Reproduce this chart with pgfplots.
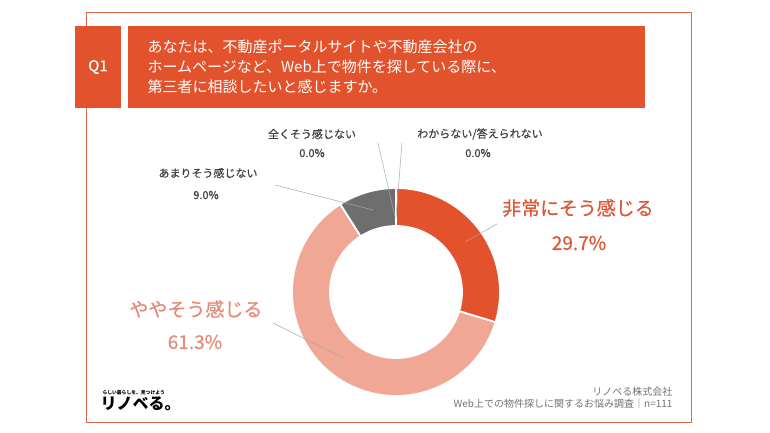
\documentclass[border=0pt]{standalone}
\usepackage{pgfplots}
\usepackage{pgfplotstable}
\pgfplotsset{compat=1.18}
\usepackage{fontspec}
\setmainfont{Noto Sans CJK JP}
\newfontfamily\medfont[FakeBold=0.6]{Noto Sans CJK JP}
\newfontfamily\semifont[FakeBold=0.3]{Noto Sans CJK JP}
\definecolor{orangeD}{HTML}{E2532D}
\definecolor{salmon}{HTML}{F0A795}
\definecolor{grayS}{HTML}{6E6E6E}
\definecolor{frameC}{HTML}{DC6A48}
\definecolor{lblO}{HTML}{DF5634}
\definecolor{lblS}{HTML}{E68C76}
\definecolor{lblG}{HTML}{404040}
\definecolor{leader}{HTML}{A8A8A8}

\pgfplotstableread{
label value
a 29.7
b 61.3
c 9.0
d 0.0
e 0.0
}\piedata

\pgfplotstablegetelem{0}{value}\of\piedata\edef\vA{\pgfplotsretval}
\pgfplotstablegetelem{1}{value}\of\piedata\edef\vB{\pgfplotsretval}
\pgfplotstablegetelem{2}{value}\of\piedata\edef\vC{\pgfplotsretval}
\pgfmathsetmacro\aA{90}
\pgfmathsetmacro\aB{\aA-3.6*\vA}
\pgfmathsetmacro\aC{\aB-3.6*\vB}
\pgfmathsetmacro\aD{\aC-3.6*\vC}

\newcommand\slice[3]{%
  \fill[#1,draw=white,line width=1.8pt]
   ([shift={(#2:104pt)}]axis cs:396,292) arc[start angle=#2,end angle=#3,radius=104pt]
   -- ([shift={(#3:66pt)}]axis cs:396,292) arc[start angle=#3,end angle=#2,radius=66pt] -- cycle;}

\begin{document}
\begin{tikzpicture}
\begin{axis}[
  width=770pt, height=433pt, scale only axis,
  xmin=0, xmax=770, ymin=0, ymax=433, y dir=reverse,
  hide axis, clip=false]
\path[fill=white] (axis cs:0,0) rectangle (axis cs:770,433);
% frame
\draw[frameC, line width=0.9pt] (axis cs:86,12) rectangle (axis cs:691,422);
% header
\fill[orangeD] (axis cs:75,26) rectangle (axis cs:121,108);
\fill[orangeD] (axis cs:128,26) rectangle (axis cs:645,108);
\node[white, font=\fontsize{15}{18}\selectfont\semifont] at (axis cs:98,67) {Q1};
\node[white, anchor=west, align=left, font=\fontsize{15}{20}\selectfont] at (axis cs:144,67)
  {あなたは、不動産ポータルサイトや不動産会社の\\ホームページなど、Web上で物件を探している際に、\\第三者に相談したいと感じますか。};
% donut
\slice{orangeD}{\aA}{\aB}
\slice{salmon}{\aB}{\aC}
\slice{grayS}{\aC}{\aD}
% leader lines
\draw[leader, line width=0.5pt] (axis cs:497,224) -- (axis cs:465,242);
\draw[leader, line width=0.5pt] (axis cs:273,323) -- (axis cs:343,358);
\draw[leader, line width=0.5pt] (axis cs:275,185) -- (axis cs:373,210);
\draw[leader, line width=0.5pt] (axis cs:378,143) -- (axis cs:395,217);
\draw[leader, line width=0.5pt] (axis cs:402,143) -- (axis cs:396,217);
% labels
\node[lblO, font=\fontsize{19}{22}\selectfont\medfont] at (axis cs:578,208) {非常にそう感じる};
\node[lblO, font=\fontsize{19}{22}\selectfont\medfont] at (axis cs:579,243) {29.7\%};
\node[lblS, font=\fontsize{19}{22}\selectfont\medfont] at (axis cs:196,309) {ややそう感じる};
\node[lblS, font=\fontsize{19}{22}\selectfont\medfont] at (axis cs:195,342) {61.3\%};
\node[lblG, font=\fontsize{11}{13}\selectfont\semifont] at (axis cs:208,173) {あまりそう感じない};
\node[lblG, font=\fontsize{11}{13}\selectfont\semifont] at (axis cs:206,195) {9.0\%};
\node[lblG, font=\fontsize{11}{13}\selectfont\semifont] at (axis cs:312,134) {全くそう感じない};
\node[lblG, font=\fontsize{11}{13}\selectfont\semifont] at (axis cs:312,153) {0.0\%};
\node[lblG, font=\fontsize{11}{13}\selectfont\semifont] at (axis cs:480,134) {わからない/答えられない};
\node[lblG, font=\fontsize{11}{13}\selectfont\semifont] at (axis cs:478,153) {0.0\%};
% footer
\node[black, anchor=west, font=\fontsize{4.8}{5}\selectfont\bfseries] at (axis cs:99,393) {らしい暮らしを、見つけよう};
\node[black, anchor=west, font=\fontsize{16}{18}\selectfont\bfseries] at (axis cs:97,404) {リノベる。};
\node[gray!90!black, anchor=east, font=\fontsize{10}{12}\selectfont] at (axis cs:676,392) {リノベる株式会社};
\node[gray!90!black, anchor=east, font=\fontsize{10}{12}\selectfont] at (axis cs:676,404) {Web上での物件探しに関するお悩み調査｜n=111};
\end{axis}
\end{tikzpicture}
\end{document}
